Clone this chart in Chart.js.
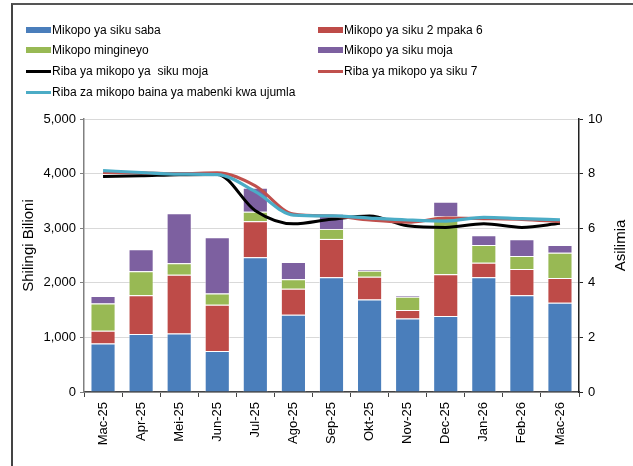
<!DOCTYPE html>
<html>
<head>
<meta charset="utf-8">
<script src="https://cdn.jsdelivr.net/npm/chart.js@4.4.1/dist/chart.umd.min.js"></script>
<style>
  html, body { margin: 0; padding: 0; background: #fff; }
  #wrap { position: relative; width: 633px; height: 466px; overflow: hidden; font-family: "Liberation Sans", Arial, sans-serif; }
  #frame { position: absolute; left: 11px; top: 3px; width: 640px; height: 480px; border-left: 2px solid #444; border-top: 2px solid #555; box-sizing: border-box; }
  #chart { position: absolute; left: 0; top: 0; }
  .lg { position: absolute; font-size: 12px; color: #000; line-height: 14px; white-space: pre; }
  .mk { position: absolute; }
</style>
</head>
<body>
<div id="wrap">
  <div id="frame"></div>
  <canvas id="chart" width="633" height="466"></canvas>
  <div id="legend"></div>
</div>
<script>
const categories = ["Mac-25","Apr-25","Mei-25","Jun-25","Jul-25","Ago-25","Sep-25","Okt-25","Nov-25","Dec-25","Jan-26","Feb-26","Mac-26"];

// Bars (Shilingi Bilioni)
const sikuSaba     = [889, 1060, 1070, 753, 2467, 1414, 2100, 1696, 1347, 1390, 2100, 1770, 1634];
const siku2Mpaka6  = [231, 710, 1078, 844, 661, 477, 704, 416, 153, 765, 268, 483, 453];
const mingineyo    = [503, 440, 209, 209, 171, 172, 183, 110, 244, 1058, 325, 238, 465];
const sikuMoja     = [134, 405, 918, 1029, 441, 318, 276, 25, 31, 270, 178, 307, 141];

// Lines (Asilimia)
const ribaSikuMoja = [7.89, 7.92, 7.96, 7.97, 6.64, 6.16, 6.33, 6.45, 6.09, 6.03, 6.16, 6.03, 6.18];
const ribaSiku7    = [8.04, 8.03, 8.00, 8.03, 7.55, 6.52, 6.45, 6.30, 6.22, 6.37, 6.35, 6.32, 6.24];
const ribaUjumla   = [8.11, 8.04, 7.98, 7.96, 7.34, 6.48, 6.45, 6.37, 6.30, 6.26, 6.40, 6.35, 6.31];

const labels = {
  saba: "Mikopo ya siku saba",
  mbili: "Mikopo ya siku 2 mpaka 6",
  ming: "Mikopo mingineyo",
  moja: "Mikopo ya siku moja",
  rMoja: "Riba ya mikopo ya  siku moja",
  r7: "Riba ya mikopo ya siku 7",
  rUj: "Riba za mikopo baina ya mabenki kwa ujumla"
};
const leftTitle = "Shilingi Bilioni";
const rightTitle = "Asilimia";

const C = { blue: "#4A7EBB", red: "#BE4B48", green: "#98B954", purple: "#7D60A0", black: "#000000", redLine: "#C0504D", cyan: "#4BACC6" };

// HTML legend (two columns)
const legendItems = [
  { t: labels.saba, c: C.blue, type: "bar", col: 0, row: 0 },
  { t: labels.mbili, c: C.red, type: "bar", col: 1, row: 0 },
  { t: labels.ming, c: C.green, type: "bar", col: 0, row: 1 },
  { t: labels.moja, c: C.purple, type: "bar", col: 1, row: 1 },
  { t: labels.rMoja, c: C.black, type: "line", col: 0, row: 2 },
  { t: labels.r7, c: C.redLine, type: "line", col: 1, row: 2 },
  { t: labels.rUj, c: C.cyan, type: "line", col: 0, row: 3 }
];
const lg = document.getElementById("legend");
const colX = [26, 318], rowY = [30, 50, 71, 92];
legendItems.forEach(it => {
  const m = document.createElement("div");
  m.className = "mk";
  const h = it.type === "bar" ? 6 : 3;
  m.style.left = colX[it.col] + "px";
  m.style.width = "25px";
  m.style.top = (rowY[it.row] - h / 2) + "px";
  m.style.height = h + "px";
  m.style.background = it.c;
  lg.appendChild(m);
  const s = document.createElement("div");
  s.className = "lg";
  s.style.left = (colX[it.col] + 26) + "px";
  s.style.top = (rowY[it.row] - 7.5) + "px";
  s.textContent = it.t;
  lg.appendChild(s);
});

const barDs = (label, data, color) => ({
  type: "bar", label, data, backgroundColor: color,
  borderColor: "rgba(255,255,255,0.55)", borderWidth: 1,
  stack: "s", yAxisID: "y", order: 5,
  barPercentage: 0.66, categoryPercentage: 1.0
});
const lineDs = (label, data, color, width, order) => ({
  type: "line", label, data, borderColor: color, backgroundColor: color,
  borderWidth: width, pointRadius: 0, cubicInterpolationMode: "monotone", fill: false,
  yAxisID: "y1", order
});

// Axis titles drawn both reading bottom-to-top, as in the reference
const axisTitles = {
  id: "axisTitles",
  afterDraw(chart) {
    const { ctx, chartArea } = chart;
    const cy = (chartArea.top + chartArea.bottom) / 2 - 10;
    ctx.save();
    ctx.fillStyle = "#000";
    ctx.font = "15px 'Liberation Sans', Arial, sans-serif";
    ctx.textAlign = "center";
    ctx.textBaseline = "middle";
    [[29, leftTitle], [621, rightTitle]].forEach(([x, t]) => {
      ctx.save();
      ctx.translate(x, cy);
      ctx.rotate(-Math.PI / 2);
      ctx.fillText(t, 0, 0);
      ctx.restore();
    });
    ctx.restore();
  }
};

new Chart(document.getElementById("chart"), {
  data: {
    labels: categories,
    datasets: [
      barDs(labels.saba, sikuSaba, C.blue),
      barDs(labels.mbili, siku2Mpaka6, C.red),
      barDs(labels.ming, mingineyo, C.green),
      barDs(labels.moja, sikuMoja, C.purple),
      lineDs(labels.rMoja, ribaSikuMoja, C.black, 3, 3),
      lineDs(labels.r7, ribaSiku7, C.redLine, 3, 2),
      lineDs(labels.rUj, ribaUjumla, C.cyan, 3.2, 1)
    ]
  },
  options: {
    responsive: false,
    animation: false,
    layout: { padding: { left: 12, right: 0, top: 119, bottom: 0 }, autoPadding: false },
    plugins: { legend: { display: false }, tooltip: { enabled: false }, title: { display: false } },
    scales: {
      x: {
        stacked: true,
        offset: true,
        afterFit: s => { s.height = 74; },
        grid: { display: true, offset: true, drawOnChartArea: false, tickLength: 5, tickColor: "#444" },
        border: { display: true, color: "#444", width: 1.5 },
        ticks: { minRotation: 90, maxRotation: 90, padding: 5, color: "#000", font: { family: "Liberation Sans", size: 13 } }
      },
      y: {
        position: "left", stacked: true, min: 0, max: 5000,
        afterFit: s => { s.width = 72; },
        grid: { color: "#d9d9d9", lineWidth: 1, tickLength: 4, tickColor: "#808080" },
        border: { display: true, color: "#808080", width: 1.5 },
        ticks: { stepSize: 1000, padding: 4, color: "#000", font: { family: "Liberation Sans", size: 13 },
                 callback: v => v.toLocaleString("en-US") }
      },
      y1: {
        position: "right", min: 0, max: 10,
        afterFit: s => { s.width = 54; },
        grid: { drawOnChartArea: false, tickLength: 4, tickColor: "#222" },
        border: { display: true, color: "#222", width: 1.5 },
        ticks: { stepSize: 2, padding: 5, color: "#000", font: { family: "Liberation Sans", size: 13 } }
      }
    }
  },
  plugins: [axisTitles]
});
</script>
</body>
</html>
